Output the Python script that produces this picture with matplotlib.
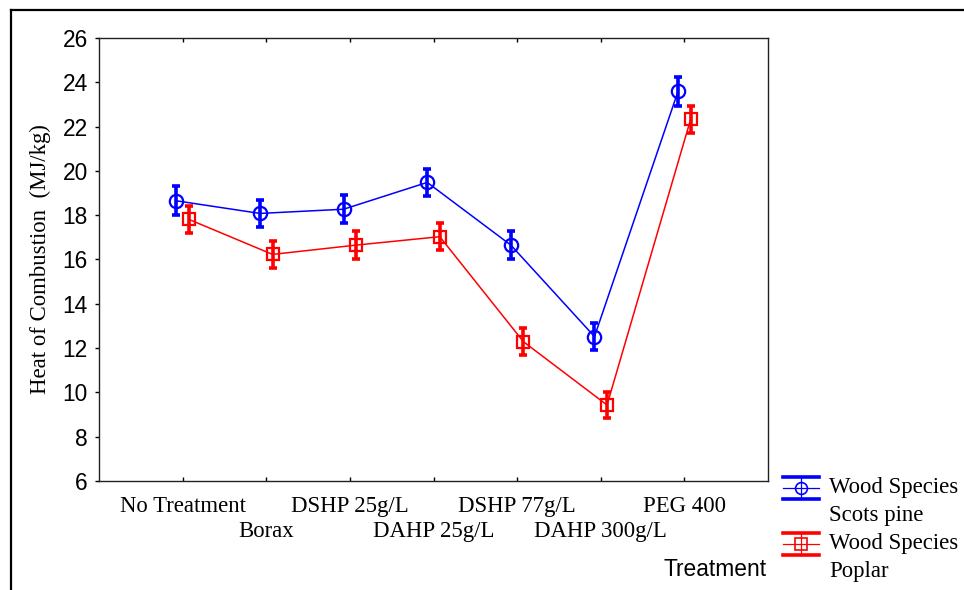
import matplotlib
matplotlib.use('Agg')
import matplotlib.pyplot as plt
from matplotlib.lines import Line2D
import numpy as np

# values
treatments = ['No Treatment', 'Borax', 'DSHP 25g/L', 'DAHP 25g/L',
              'DSHP 77g/L', 'DAHP 300g/L', 'PEG 400']
pine = [18.65, 18.08, 18.27, 19.48, 16.65, 12.52, 23.60]
pine_err = [0.65, 0.62, 0.62, 0.62, 0.62, 0.60, 0.66]
poplar = [17.81, 16.23, 16.65, 17.03, 12.29, 9.43, 22.33]
poplar_err = [0.62, 0.60, 0.62, 0.62, 0.60, 0.60, 0.62]

W, H = 964, 590
SERIF = 'Liberation Serif'
SANS = 'Liberation Sans'
FS = 16.4
BLUE = '#0000ff'
RED = '#ff0000'


def px(x, y):
    """pixel position -> figure fraction"""
    return x / W, 1 - y / H


fig = plt.figure(figsize=(W / 100, H / 100), dpi=100)
ax = fig.add_axes([99 / W, 1 - 481 / H, (768 - 99) / W, (481 - 38) / H])

x = np.arange(1, len(treatments) + 1)
off = 0.075

ax.plot(x - off, pine, color=BLUE, lw=1.1, zorder=2)
ax.errorbar(x - off, pine, yerr=pine_err, fmt='none', ecolor=BLUE,
            elinewidth=2.6, capsize=3.0, capthick=2.6, zorder=3)
ax.plot(x - off, pine, 'o', ms=9.6, mfc='none', mec=BLUE, mew=1.6, zorder=4)

ax.plot(x + off, poplar, color=RED, lw=1.1, zorder=2)
ax.errorbar(x + off, poplar, yerr=poplar_err, fmt='none', ecolor=RED,
            elinewidth=2.6, capsize=3.0, capthick=2.6, zorder=3)
ax.plot(x + off, poplar, 's', ms=8.8, mfc='none', mec=RED, mew=1.6, zorder=4)

ax.set_xlim(0, 8)
ax.set_ylim(6, 26)
ax.set_yticks(np.arange(6, 27, 2))
# staggered category labels: odd ones on the major ticks, even ones one row lower
ax.set_xticks(x[0::2])
ax.set_xticklabels(treatments[0::2], family=SERIF, fontsize=FS)
ax.set_xticks(x[1::2], minor=True)
ax.set_xticklabels(treatments[1::2], minor=True, family=SERIF, fontsize=FS)
for lab in ax.get_yticklabels():
    lab.set_family(SANS)
    lab.set_fontsize(FS)

ax.tick_params(axis='x', which='both', direction='in', top=True, length=3, width=1)
ax.tick_params(axis='x', which='major', pad=11)
ax.tick_params(axis='x', which='minor', pad=29)
ax.tick_params(axis='y', direction='out', length=3, width=1, pad=5)
for sp in ax.spines.values():
    sp.set_linewidth(1.0)
    sp.set_color('#222222')

ax.set_ylabel('Heat of Combustion  (MJ/kg)', family=SERIF, fontsize=FS, labelpad=8)
fig.text(*px(767, 570), 'Treatment', family=SANS, fontsize=FS, ha='right', va='center')

# outer frame (left and top edges)
fig.add_artist(Line2D([11 / W, 11 / W], [0, 1 - 10 / H], transform=fig.transFigure,
                      color='black', lw=1.6))
fig.add_artist(Line2D([11 / W, 1], [1 - 10 / H, 1 - 10 / H], transform=fig.transFigure,
                      color='black', lw=1.6))


# legend, drawn by hand like the statistics package does
def legend_entry(yc, color, marker, ms, line1, line2):
    x0, x1, xm = 783, 819, 801
    for yy, lw in [(yc - 11, 2.6), (yc + 11, 2.6), (yc, 0.9)]:
        fig.add_artist(Line2D([x0 / W, x1 / W], [1 - yy / H] * 2,
                              transform=fig.transFigure, color=color, lw=lw))
    fig.add_artist(Line2D([xm / W, xm / W], [1 - (yc - 11) / H, 1 - (yc + 11) / H],
                          transform=fig.transFigure, color=color, lw=0.9))
    fig.add_artist(Line2D([xm / W], [1 - yc / H], transform=fig.transFigure,
                          marker=marker, ms=ms, mfc='none', mec=color, mew=1.2,
                          linestyle='none'))
    fig.text(*px(829, yc), line1, family=SERIF, fontsize=FS, va='center')
    fig.text(*px(829, yc + 28), line2, family=SERIF, fontsize=FS, va='center')


legend_entry(488, BLUE, 'o', 8.5, 'Wood Species', 'Scots pine')
legend_entry(544, RED, 's', 8, 'Wood Species', 'Poplar')

fig.savefig('out.png', dpi=100, facecolor='white')
